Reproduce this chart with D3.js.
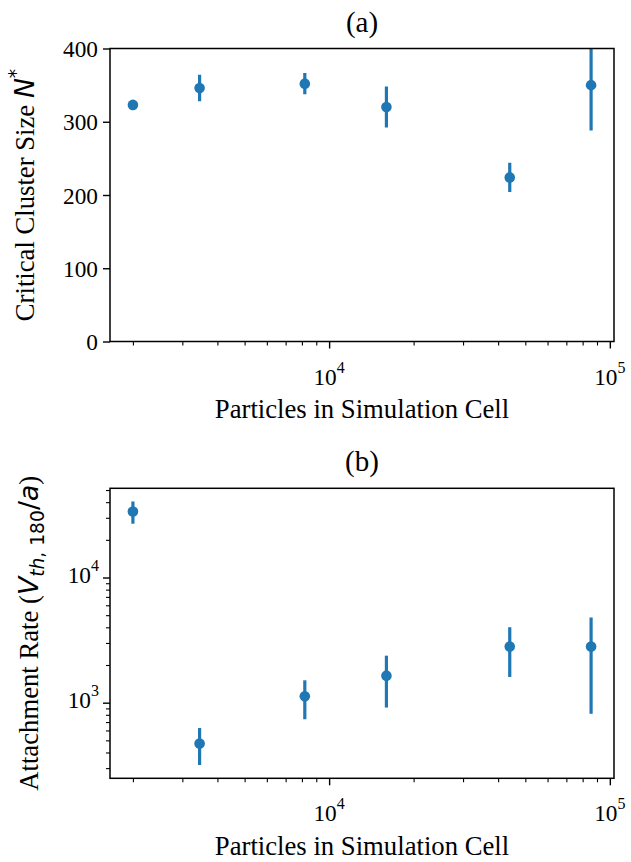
<!DOCTYPE html>
<html>
<head>
<meta charset="utf-8">
<script src="https://cdn.jsdelivr.net/npm/d3@7"></script>
<style>
  body { margin: 0; background: #fff; }
</style>
</head>
<body>
<svg id="chart" width="631" height="862" font-family="Liberation Serif"></svg>
<script>
// ========== Data ==========
const particles = [2000, 3456, 8192, 16000, 44000, 85750];
const clusterSize = [323, 346, 352, 320, 224, 350];
const clusterErr = [3, 18, 14.5, 28, 20, 62];
const attachRate = [33700, 472, 1123, 1644, 2805, 2805];
const attachErr = [6800, 155, 386, 730, 1200, 1990];
const clusterTicks = [0, 100, 200, 300, 400];
const xMajorExp = [4, 5];
const rateMajorExp = [3, 4];

// ========== Config ==========
const config = {
  left: 110,
  right: 614,
  a: { top: 48.5, bottom: 341.5, yLabelX: 34 },
  b: { top: 488.3, bottom: 778.3, yLabelX: 38 },
  color: '#1f77b4',
  tickFont: 23.3,
  supFont: 16,
  labelFont: 26.7,
  mathFont: 26.7,
  subFont: 18.7,
  titleFont: 29,
  tickLabelEdge: 98,
  serif: 'Liberation Serif',
  sans: 'DejaVu Sans'
};

const svg = d3.select('#chart');

// log domain with matplotlib style 5% margins
function logPad(lo, hi){
  const a = Math.log10(lo), b = Math.log10(hi), m = 0.05*(b - a);
  return [Math.pow(10, a - m), Math.pow(10, b + m)];
}

const x = d3.scaleLog()
  .domain(logPad(d3.min(particles), d3.max(particles)))
  .range([config.left, config.right]);

const yA = d3.scaleLinear()
  .domain([0, 400])
  .range([config.a.bottom, config.a.top]);

const yB = d3.scaleLog()
  .domain(logPad(
    d3.min(attachRate.map((v, i) => v - attachErr[i])),
    d3.max(attachRate.map((v, i) => v + attachErr[i]))))
  .range([config.b.bottom, config.b.top]);

// minor ticks for a log scale inside its domain
function minorTicks(scale){
  const [lo, hi] = scale.domain();
  const out = [];
  for(let e = Math.floor(Math.log10(lo)); e <= Math.ceil(Math.log10(hi)); e++){
    for(let k = 2; k <= 9; k++){
      const v = k*Math.pow(10, e);
      if(v >= lo && v <= hi) out.push(v);
    }
  }
  return out;
}

// serif text helper
function serifText(g, size){
  return g.append('text')
    .attr('font-family', config.serif)
    .attr('font-size', size)
    .attr('fill', '#000');
}

// power-of-ten label
function powLabel(sel, exp){
  sel.append('tspan').text('10');
  sel.append('tspan').attr('dy', -12).attr('font-size', config.supFont).text(exp);
}

function tickLines(g, axis, values, size, width){
  g.append('g')
    .call(axis.tickValues(values).tickSize(size).tickFormat(''))
    .call(a => a.select('.domain').remove())
    .call(a => a.selectAll('line').attr('stroke', '#000').attr('stroke-width', width));
}

function mathSpan(t, txt, size, italic){
  return t.append('tspan')
    .attr('font-family', config.sans)
    .attr('font-style', italic ? 'italic' : 'normal')
    .attr('font-size', size)
    .text(txt);
}

function panel(key, title, yLabel){
  const box = config[key];
  const g = svg.append('g');

  g.append('clipPath').attr('id', 'clip-' + key)
    .append('rect')
    .attr('x', config.left).attr('y', box.top)
    .attr('width', config.right - config.left)
    .attr('height', box.bottom - box.top);

  // x ticks
  const xa = g.append('g').attr('transform', `translate(0,${box.bottom})`);
  tickLines(xa, d3.axisBottom(x), xMajorExp.map(e => Math.pow(10, e)), 7, 1.4);
  tickLines(xa, d3.axisBottom(x), minorTicks(x), 4, 1.1);

  xMajorExp.forEach(e => {
    serifText(g, config.tickFont)
      .attr('x', x(Math.pow(10, e)))
      .attr('y', box.bottom + 43)
      .attr('text-anchor', 'middle')
      .call(powLabel, e);
  });

  serifText(g, config.labelFont)
    .attr('x', (config.left + config.right)/2)
    .attr('y', box.bottom + 76.5)
    .attr('text-anchor', 'middle')
    .text('Particles in Simulation Cell');

  // title
  serifText(g, config.titleFont)
    .attr('x', (config.left + config.right)/2)
    .attr('y', box.top - 17)
    .attr('text-anchor', 'middle')
    .text(title);

  // y label
  const yl = serifText(g, config.labelFont)
    .attr('transform', `translate(${box.yLabelX},${(box.top + box.bottom)/2}) rotate(-90)`)
    .attr('text-anchor', 'middle');
  yLabel(yl);

  return g;
}

// ========== Panel (a) ==========
const gA = panel('a', '(a)', t => {
  t.append('tspan').text('Critical Cluster Size ');
  mathSpan(t, 'N', config.mathFont, true);
  mathSpan(t, '*', config.subFont, false).attr('dy', -12);
});

const yaA = gA.append('g').attr('transform', `translate(${config.left},0)`);
tickLines(yaA, d3.axisLeft(yA), clusterTicks, 7, 1.4);
clusterTicks.forEach(v => {
  serifText(gA, config.tickFont)
    .attr('x', config.tickLabelEdge)
    .attr('y', yA(v) + 8.5)
    .attr('text-anchor', 'end')
    .text(v);
});

// ========== Panel (b) ==========
const gB = panel('b', '(b)', t => {
  t.append('tspan').text('Attachment Rate (');
  mathSpan(t, 'V', config.mathFont, true);
  mathSpan(t, 'th', config.subFont, true).attr('dy', 6);
  mathSpan(t, ', 180', config.subFont, false);
  mathSpan(t, '/', config.mathFont, false).attr('dy', -6);
  mathSpan(t, 'a', config.mathFont, true);
  t.append('tspan').text(')');
});

const yaB = gB.append('g').attr('transform', `translate(${config.left},0)`);
tickLines(yaB, d3.axisLeft(yB), rateMajorExp.map(e => Math.pow(10, e)), 7, 1.4);
tickLines(yaB, d3.axisLeft(yB), minorTicks(yB), 4, 1.1);

rateMajorExp.forEach(e => {
  serifText(gB, config.tickFont)
    .attr('x', config.tickLabelEdge + 1)
    .attr('y', yB(Math.pow(10, e)) + 5)
    .attr('text-anchor', 'end')
    .call(powLabel, e);
});

// ========== Error bars + points ==========
function drawSeries(g, key, y, vals, errs){
  const s = g.append('g').attr('clip-path', `url(#clip-${key})`);
  s.selectAll('line.err')
    .data(vals)
    .join('line')
    .attr('class', 'err')
    .attr('x1', (d, i) => x(particles[i]))
    .attr('x2', (d, i) => x(particles[i]))
    .attr('y1', (d, i) => y(d - errs[i]))
    .attr('y2', (d, i) => y(d + errs[i]))
    .attr('stroke', config.color)
    .attr('stroke-width', 3.2);
  s.selectAll('circle')
    .data(vals)
    .join('circle')
    .attr('cx', (d, i) => x(particles[i]))
    .attr('cy', d => y(d))
    .attr('r', 5.3)
    .attr('fill', config.color);

  // frame
  const box = config[key];
  g.append('rect')
    .attr('x', config.left).attr('y', box.top)
    .attr('width', config.right - config.left)
    .attr('height', box.bottom - box.top)
    .attr('fill', 'none')
    .attr('stroke', '#000')
    .attr('stroke-width', 1.5);
}

drawSeries(gA, 'a', yA, clusterSize, clusterErr);
drawSeries(gB, 'b', yB, attachRate, attachErr);
</script>
</body>
</html>
